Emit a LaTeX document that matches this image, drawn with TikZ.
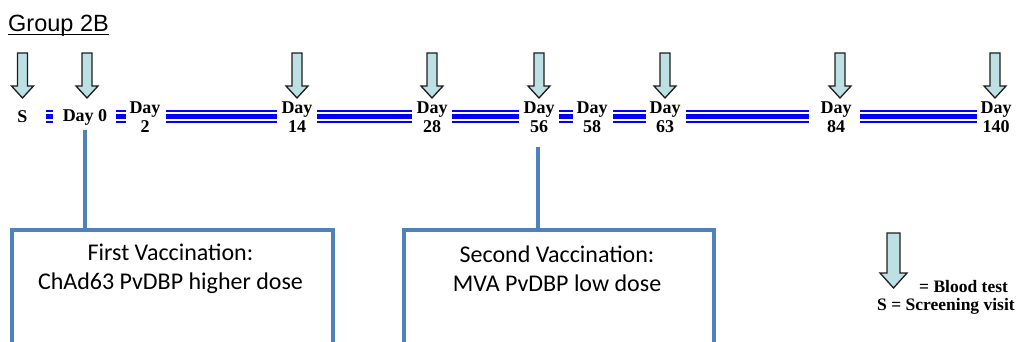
\documentclass[tikz,border=0pt]{standalone}
\usepackage{fontspec}
\setmainfont{Liberation Serif}
\newfontfamily\arialfont{Liberation Sans}
\newfontfamily\calibrifont{Carlito}
\definecolor{arrowfill}{RGB}{189,224,228}
\definecolor{arrowline}{RGB}{30,30,30}
\definecolor{boxblue}{RGB}{79,129,189}
\definecolor{tlblue}{RGB}{0,0,255}
\begin{document}
\begin{tikzpicture}[x=1pt,y=-1pt,
  daylbl/.style={font=\bfseries\fontsize{18}{19.5}\selectfont, align=center, inner sep=0},
  legendtxt/.style={font=\bfseries\fontsize{17.5}{19}\selectfont, inner sep=0, anchor=west},
  vacbox/.style={draw=boxblue, line width=3.5, minimum width=#1, minimum height=140, anchor=north west, inner sep=0},
  vactxt/.style={font=\calibrifont\fontsize{24}{29}\selectfont, align=center, inner sep=0},
  vacline/.style={draw=boxblue, line width=3.5},
  arrowbody/.style={fill=arrowfill, draw=arrowline, line width=1.3, line join=miter},
  pics/bloodarrow/.style n args={4}{code={
    \draw[arrowbody] (-#2,-#1) -- (#2,-#1) -- (#2,-#4) -- (#3,-#4) -- (0,0)
      -- (-#3,-#4) -- (-#2,-#4) -- cycle;}}
]
\useasboundingbox (0,0) rectangle (1018,342);
\clip (0,0) rectangle (1018,342);

% title with its underline
\node[anchor=base west, inner sep=0, font=\arialfont\fontsize{23.5}{28}\selectfont]
  (title) at (8,32) {Group 2B};
\draw[line width=1.4] ([yshift=-2.8pt]title.base west) -- ([yshift=-2.8pt]title.base east);

% timeline labels
\node[daylbl] (s)   at (22.5,117) {S};
\node[daylbl] (d0)  at (85,117)  {Day 0};
\node[daylbl] (d2)  at (145,117) {Day\\2};
\node[daylbl] (d14) at (297,117) {Day\\14};
\node[daylbl] (d28) at (432,117) {Day\\28};
\node[daylbl] (d56) at (539,117) {Day\\56};
\node[daylbl] (d58) at (592,117) {Day\\58};
\node[daylbl] (d63) at (665,117) {Day\\63};
\node[daylbl] (d84) at (836,117) {Day\\84};
\node[daylbl] (d140) at (996,117) {Day\\140};

% triple-line timeline segments
\foreach \a/\b in {46/53, 116/126, 166/277, 317/412, 452/519, 559/573, 613/646, 686/809, 860/977} {
  \draw[tlblue, line width=2.3] (\a,111.2) -- (\b,111.2);
  \draw[tlblue, line width=4.3] (\a,116.5) -- (\b,116.5);
  \draw[tlblue, line width=2.4] (\a,122.3) -- (\b,122.3);
}

% blood test arrows
\foreach \x in {22.5, 87, 297, 432, 539, 665, 840, 995}
  \pic at (\x,98) {bloodarrow={45}{5}{11}{12}};

% vaccination boxes
\node[vacbox=321] (vac1) at (10,228) {};
\node[vacbox=310] (vac2) at (402,228) {};
\node[vactxt] (vac1txt) at (170.5,268.5) {First Vaccination:\\ChAd63 PvDBP higher dose};
\node[vactxt] (vac2txt) at (557,268.5) {Second Vaccination:\\MVA PvDBP low dose};

\coordinate (v1) at (85,130);
\coordinate (v2) at (538,147);
\draw[vacline] (v1) -- (v1 |- vac1.north);
\draw[vacline] (v2) -- (v2 |- vac2.north);

% legend
\pic at (893.5,288) {bloodarrow={55}{6.5}{13.5}{15}};
\node[legendtxt] (lg1) at (919,287) {= Blood test};
\node[legendtxt] (lg2) at (877,306) {S = Screening visit};
\end{tikzpicture}
\end{document}
